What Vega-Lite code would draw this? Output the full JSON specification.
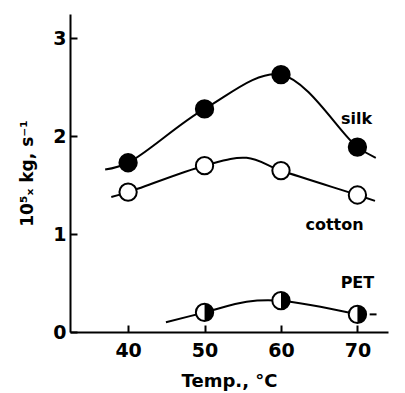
{
  "$schema": "https://vega.github.io/schema/vega-lite/v6.json",
  "width": 318,
  "height": 318,
  "autosize": "none",
  "padding": {"left": 70, "top": 14, "right": 17, "bottom": 61},
  "config": {"view": {"stroke": null}, "font": "DejaVu Sans"},
  "datasets": {
    "curves": [
      {"series": "silk", "temp": 37.0, "rate": 1.66},
      {"series": "silk", "temp": 40, "rate": 1.73},
      {"series": "silk", "temp": 50, "rate": 2.28},
      {"series": "silk", "temp": 60, "rate": 2.63},
      {"series": "silk", "temp": 70, "rate": 1.89},
      {"series": "silk", "temp": 72.4, "rate": 1.78},
      {"series": "cotton", "temp": 37.8, "rate": 1.38},
      {"series": "cotton", "temp": 40, "rate": 1.43},
      {"series": "cotton", "temp": 50, "rate": 1.7},
      {"series": "cotton", "temp": 55.5, "rate": 1.78},
      {"series": "cotton", "temp": 60, "rate": 1.65},
      {"series": "cotton", "temp": 70, "rate": 1.4},
      {"series": "cotton", "temp": 72.3, "rate": 1.34},
      {"series": "PET", "temp": 44.95, "rate": 0.1},
      {"series": "PET", "temp": 50, "rate": 0.2},
      {"series": "PET", "temp": 55.5, "rate": 0.31},
      {"series": "PET", "temp": 60, "rate": 0.32},
      {"series": "PET", "temp": 70, "rate": 0.18},
      {"series": "PET tail", "temp": 71.6, "rate": 0.18},
      {"series": "PET tail", "temp": 72.5, "rate": 0.18}
    ],
    "points": [
      {"series": "silk", "temp": 40, "rate": 1.73},
      {"series": "silk", "temp": 50, "rate": 2.28},
      {"series": "silk", "temp": 60, "rate": 2.63},
      {"series": "silk", "temp": 70, "rate": 1.89},
      {"series": "cotton", "temp": 40, "rate": 1.43},
      {"series": "cotton", "temp": 50, "rate": 1.7},
      {"series": "cotton", "temp": 60, "rate": 1.65},
      {"series": "cotton", "temp": 70, "rate": 1.4},
      {"series": "PET", "temp": 50, "rate": 0.2},
      {"series": "PET", "temp": 60, "rate": 0.32},
      {"series": "PET", "temp": 70, "rate": 0.18}
    ],
    "labels": [
      {"label": "silk", "temp": 69.9, "rate": 2.18},
      {"label": "cotton", "temp": 67.0, "rate": 1.09},
      {"label": "PET", "temp": 70.0, "rate": 0.5}
    ]
  },
  "encoding": {
    "x": {
      "field": "temp", "type": "quantitative",
      "scale": {"domain": [32.4, 74], "nice": false, "zero": false},
      "axis": {
        "values": [40, 50, 60, 70], "grid": false, "title": "Temp., °C",
        "domainColor": "black", "domainWidth": 2, "tickColor": "black", "tickWidth": 2, "tickSize": -7,
        "labelFontSize": 19, "labelFontWeight": "bold", "labelColor": "black", "labelPadding": 16,
        "titleFontSize": 18, "titleFontWeight": "bold", "titleColor": "black", "titlePadding": 12
      }
    },
    "y": {
      "field": "rate", "type": "quantitative",
      "scale": {"domain": [0, 3.25], "nice": false},
      "axis": {
        "values": [0, 1, 2, 3], "grid": false, "title": "10⁵ₓ kg, s⁻¹",
        "domainColor": "black", "domainWidth": 2, "tickColor": "black", "tickWidth": 2, "tickSize": -7,
        "labelFontSize": 19, "labelFontWeight": "bold", "labelColor": "black", "labelPadding": 11,
        "titleFontSize": 17, "titleFontWeight": "bold", "titleColor": "black", "titlePadding": 16
      }
    }
  },
  "layer": [
    {
      "data": {"name": "curves"},
      "mark": {"type": "line", "color": "black", "strokeWidth": 2, "interpolate": "catmull-rom"},
      "encoding": {"detail": {"field": "series"}}
    },
    {
      "data": {"name": "points"},
      "mark": {"type": "point", "shape": "circle", "size": 300, "strokeWidth": 2, "stroke": "black", "filled": true, "opacity": 1},
      "encoding": {
        "fill": {"field": "series", "type": "nominal", "scale": {"domain": ["silk", "cotton", "PET"], "range": ["black", "white", "white"]}, "legend": null}
      }
    },
    {
      "data": {"name": "points"},
      "transform": [{"filter": "datum.series === 'PET'"}],
      "mark": {"type": "point", "shape": "M0,-1A1,1 0 0 1 0,1Z", "size": 300, "filled": true, "fill": "black", "opacity": 1, "strokeWidth": 0}
    },
    {
      "data": {"name": "labels"},
      "mark": {"type": "text", "fontSize": 16, "fontWeight": "bold", "color": "black"},
      "encoding": {"text": {"field": "label"}}
    }
  ]
}
